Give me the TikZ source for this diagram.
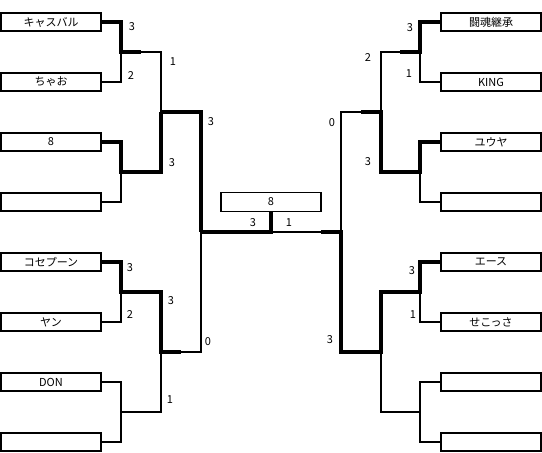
\documentclass[tikz,border=0pt]{standalone}
\usepackage{fontspec}
\setmainfont{Noto Sans CJK JP}
\usepackage{tikz}
\usetikzlibrary{positioning}

\begin{document}
\begin{tikzpicture}[
  x=1pt, y=-1pt,
  team/.style={rectangle, draw, line width=1.5pt, minimum width=100pt, minimum height=18pt, inner sep=0pt, font=\fontsize{11}{13}\selectfont},
  win/.style={line width=3.5pt},
  lose/.style={line width=1.5pt},
  score/.style={inner sep=0pt, font=\fontsize{11}{13}\selectfont}
]
  \useasboundingbox (0,0) rectangle (542,453);
  % left block
  \node[team] (l1) at (51,22) {キャスバル};
  \node[team] (l2) at (51,82) {ちゃお};
  \node[team] (l3) at (51,142) {8};
  \node[team] (l4) at (51,202) {};
  \node[team] (l5) at (51,262) {コセプーン};
  \node[team] (l6) at (51,322) {ヤン};
  \node[team] (l7) at (51,382) {DON};
  \node[team] (l8) at (51,442) {};
  % right block
  \node[team] (r1) at (491,22) {闘魂継承};
  \node[team] (r2) at (491,82) {KING};
  \node[team] (r3) at (491,142) {ユウヤ};
  \node[team] (r4) at (491,202) {};
  \node[team] (r5) at (491,262) {エース};
  \node[team] (r6) at (491,322) {せこっさ};
  \node[team] (r7) at (491,382) {};
  \node[team] (r8) at (491,442) {};
  % final
  \node[team, minimum height=19pt] (final) at (271,202) {8};

  \coordinate (m1) at (121,52);
  \coordinate (m2) at (121,172);
  \coordinate (m3) at (121,292);
  \coordinate (m4) at (121,412);
  \coordinate (s1) at (161,112);
  \coordinate (s2) at (161,352);
  \coordinate (f1) at (201,232);
  \coordinate (n1) at (420,52);
  \coordinate (n2) at (420,172);
  \coordinate (n3) at (420,292);
  \coordinate (n4) at (420,412);
  \coordinate (t1) at (381,112);
  \coordinate (t2) at (381,352);
  \coordinate (f2) at (341,232);

  % left lines
  \draw[win] (l1.east) -| (m1) -- ++(20,0);
  \draw[lose] (l2.east) -| (m1);
  \draw[lose] (m1) ++(20,0) -| (s1);
  \draw[win] (l3.east) -| (m2) -| (s1);
  \draw[lose] (l4.east) -| (m2);
  \draw[win] (s1) -| (f1);
  \draw[win] (l5.east) -| (m3) -| (s2) -- ++(20,0);
  \draw[lose] (l6.east) -| (m3);
  \draw[lose] (s2) ++(20,0) -| (f1);
  \draw[lose] (l7.east) -| (m4) -| (s2);
  \draw[lose] (l8.east) -| (m4);
  \draw[win] (f1) -| (final.south);

  % right lines
  \draw[win] (r1.west) -| (n1) -- ++(-20,0);
  \draw[lose] (r2.west) -| (n1);
  \draw[lose] (n1) ++(-20,0) -| (t1);
  \draw[win] (r3.west) -| (n2) -| (t1) -- ++(-20,0);
  \draw[lose] (r4.west) -| (n2);
  \draw[lose] (t1) ++(-20,0) -| (f2);
  \draw[win] (r5.west) -| (n3) -| (t2) -| (f2) -- ++(-20,0);
  \draw[lose] (r6.west) -| (n3);
  \draw[lose] (r7.west) -| (n4) -| (t2);
  \draw[lose] (r8.west) -| (n4);
  \draw[lose] (f2) ++(-20,0) -- (final.south |- f2);

  % scores
  \node[score] (sl1) at (132,27) {3};
  \node[score] (sl2) at (131,76) {2};
  \node[score] (sl3) at (173,62) {1};
  \node[score] (sl4) at (172,163) {3};
  \node[score] (sl5) at (211,122) {3};
  \node[score] (sl6) at (130,268) {3};
  \node[score] (sl7) at (130,315) {2};
  \node[score] (sl8) at (171,301) {3};
  \node[score] (sl9) at (170,400) {1};
  \node[score] (sl10) at (208,342) {0};
  \node[score] (sf1) at (253,223) {3};
  \node[score] (sf2) at (289,223) {1};
  \node[score] (sr1) at (410,28) {3};
  \node[score] (sr2) at (409,74) {1};
  \node[score] (sr3) at (368,58) {2};
  \node[score] (sr4) at (368,162) {3};
  \node[score] (sr5) at (332,123) {0};
  \node[score] (sr6) at (412,271) {3};
  \node[score] (sr7) at (413,315) {1};
  \node[score] (sr8) at (330,340) {3};
\end{tikzpicture}
\end{document}
